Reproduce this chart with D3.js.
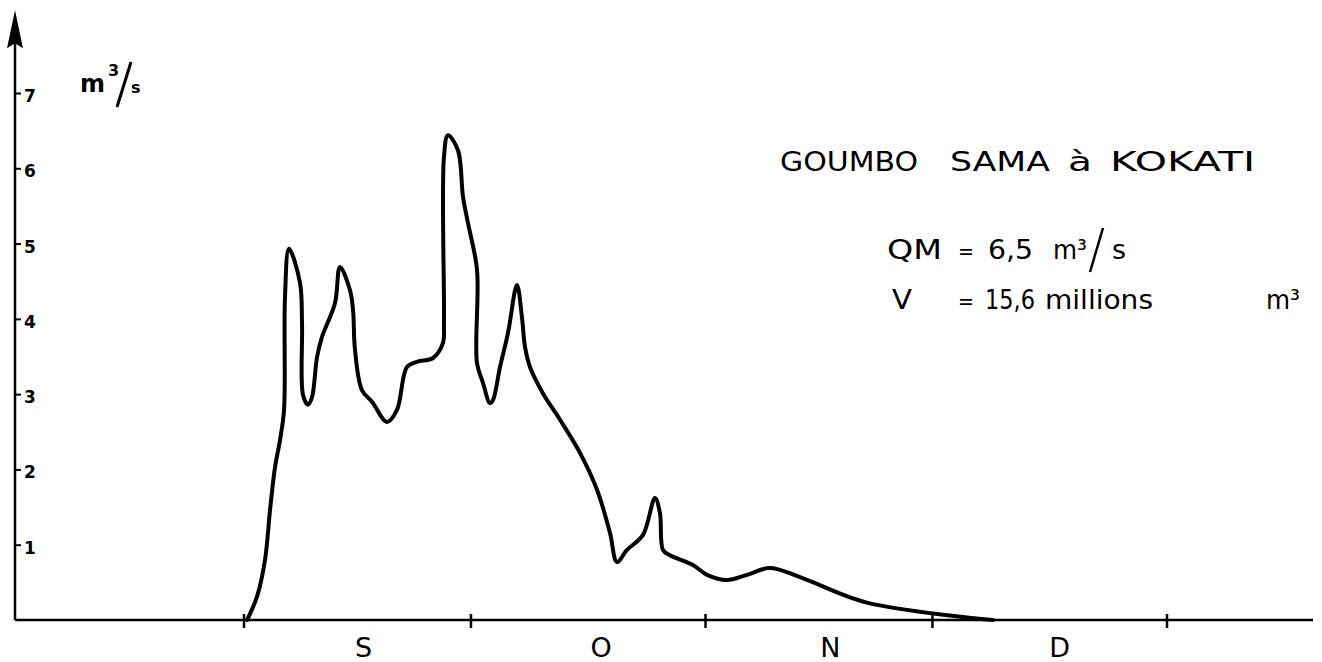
<!DOCTYPE html>
<html>
<head>
<meta charset="utf-8">
<script src="https://cdn.jsdelivr.net/npm/d3@7"></script>
<style>
  html, body { margin: 0; padding: 0; background: #fff; }
  svg { display: block; }
  text { font-family: "DejaVu Sans", sans-serif; fill: #000; }
</style>
</head>
<body>
<svg id="chart" width="1322" height="662"></svg>
<script>
// ---- data (day counted from 1 September, discharge in m3/s) ----
const days = [0.4, 1.72, 2.78, 3.44, 4.10, 4.76, 5.29, 5.42, 5.95, 7.40, 7.67, 7.80, 8.46, 8.99, 9.65, 10.31,
  12.03, 12.69, 14.01, 14.41, 14.67, 15.60, 16.92, 18.90, 20.22, 21.54, 22.87, 24.98, 26.30, 26.43, 26.43,
  26.96, 28.28, 28.95, 29.61, 30.80, 30.80, 31.59, 32.51, 32.91, 33.84, 34.89, 36.08, 36.74, 37.14, 37.80,
  39.52, 41.77, 44.41, 46.66, 48.37, 49.30, 50.62, 52.74, 54.32, 54.98, 55.38, 56.30, 59.34, 61.20, 63.84,
  66.48, 69.52, 73.49, 82.34, 99.0];
const discharge = [0.0, 0.31, 0.80, 1.46, 2.03, 2.39, 2.79, 4.29, 4.93, 4.48, 3.94, 2.99, 2.86, 2.96, 3.49, 3.76,
  4.21, 4.69, 4.38, 4.12, 3.59, 3.05, 2.90, 2.63, 2.79, 3.36, 3.43, 3.48, 3.68, 3.94, 6.15,
  6.44, 6.24, 5.62, 5.27, 4.65, 3.41, 3.15, 2.88, 2.92, 3.36, 3.81, 4.45, 4.02, 3.63, 3.36,
  3.01, 2.66, 2.22, 1.73, 1.16, 0.77, 0.93, 1.13, 1.62, 1.42, 0.93, 0.86, 0.73, 0.60, 0.53,
  0.60, 0.69, 0.57, 0.23, 0.0];
const monthTickDays = [0, 30, 61, 91, 122];
const monthLabels = ["S", "O", "N", "D"];
const monthLabelDays = [15.8, 47.2, 77.5, 107.8];
const yTicks = [1, 2, 3, 4, 5, 6, 7];
const yAxisTop = 8.1;
const title = ["GOUMBO", "SAMA", "à", "KOKATI"];

// ---- scales ----
const svg = d3.select("#chart");
const x = d3.scaleLinear().domain([0, 122]).range([244, 1167]);
const y = d3.scaleLinear().domain([0, 7]).range([620, 93]);
const x0 = 15;

// ---- y axis line + arrow ----
svg.append("line").attr("x1", x0).attr("x2", x0)
  .attr("y1", y(0)).attr("y2", y(yAxisTop) + 20)
  .attr("stroke", "#000").attr("stroke-width", 2.5);
const ty = y(yAxisTop);
svg.append("path")
  .attr("d", `M${x0},${ty} L${x0 + 8},${ty + 38} L${x0},${ty + 33} L${x0 - 8},${ty + 38} Z`)
  .attr("fill", "#000");

const yAxis = d3.axisRight(y).tickValues(yTicks).tickSize(6).tickPadding(3).tickFormat(d3.format("d"));
const gy = svg.append("g").attr("transform", `translate(${x0},0)`).call(yAxis);
gy.select(".domain").remove();
gy.selectAll(".tick line").attr("stroke", "#000").attr("stroke-width", 2);
gy.selectAll(".tick text").attr("font-family", "DejaVu Sans").attr("font-weight", "bold")
  .attr("font-size", 17).attr("dy", "0.5em").attr("fill", "#000");

// ---- x axis ----
svg.append("line").attr("x1", x0).attr("x2", 1313)
  .attr("y1", y(0)).attr("y2", y(0))
  .attr("stroke", "#000").attr("stroke-width", 2.5);
svg.selectAll(".xtick").data(monthTickDays).enter().append("line")
  .attr("class", "xtick")
  .attr("x1", d => x(d)).attr("x2", d => x(d))
  .attr("y1", y(0) - 6).attr("y2", y(0) + 8)
  .attr("stroke", "#000").attr("stroke-width", 2.5);
svg.selectAll(".xlab").data(monthLabels).enter().append("text")
  .attr("class", "xlab")
  .attr("x", (d, i) => x(monthLabelDays[i]))
  .attr("y", 657)
  .attr("text-anchor", "middle")
  .attr("font-size", 27)
  .text(d => d);

// ---- unit label ----
const unit = svg.append("g");
unit.append("text").attr("x", 80).attr("y", 92).attr("font-size", 24).attr("font-weight", "bold").text("m");
unit.append("text").attr("x", 108).attr("y", 76).attr("font-size", 16).attr("font-weight", "bold").text("3");
unit.append("line").attr("x1", 117).attr("y1", 107).attr("x2", 131).attr("y2", 62)
  .attr("stroke", "#000").attr("stroke-width", 3);
unit.append("text").attr("x", 131).attr("y", 93).attr("font-size", 16).attr("font-weight", "bold").text("s");

// ---- curve ----
const pts = days.map((d, i) => [d, discharge[i]]);
const line = d3.line().x(d => x(d[0])).y(d => y(d[1])).curve(d3.curveCatmullRom.alpha(0.5));
svg.append("path").datum(pts).attr("d", line)
  .attr("fill", "none").attr("stroke", "#000").attr("stroke-width", 4)
  .attr("stroke-linejoin", "round").attr("stroke-linecap", "round");

// ---- annotations ----
const titleX = [780, 950, 1068, 1110];
const titleW = [138, 100, 24, 145];
svg.selectAll(".title").data(title).enter().append("text")
  .attr("class", "title")
  .attr("x", (d, i) => titleX[i]).attr("y", 171)
  .attr("font-size", 27)
  .attr("textLength", (d, i) => titleW[i])
  .attr("lengthAdjust", "spacingAndGlyphs")
  .text(d => d);

function word(g, str, xx, yy, len, size) {
  const t = g.append("text").attr("x", xx).attr("y", yy).text(str);
  if (size) t.attr("font-size", size);
  if (len) t.attr("textLength", len).attr("lengthAdjust", "spacingAndGlyphs");
  return t;
}

const qm = svg.append("g").attr("font-size", 26);
word(qm, "QM", 887, 259, 55);
word(qm, "=", 958, 259, 16, 22);
word(qm, "6,5", 988, 259, 45);
word(qm, "m³", 1053, 259, 34);
qm.append("line").attr("x1", 1090).attr("y1", 272).attr("x2", 1103).attr("y2", 228)
  .attr("stroke", "#000").attr("stroke-width", 2.5);
word(qm, "s", 1112, 259, 14);

const vv = svg.append("g").attr("font-size", 26);
word(vv, "V", 892, 309, 20);
word(vv, "=", 958, 309, 16, 22);
word(vv, "15,6", 985, 309, 50);
word(vv, "millions", 1045, 309, 108);
word(vv, "m³", 1266, 309, 34);
</script>
</body>
</html>
